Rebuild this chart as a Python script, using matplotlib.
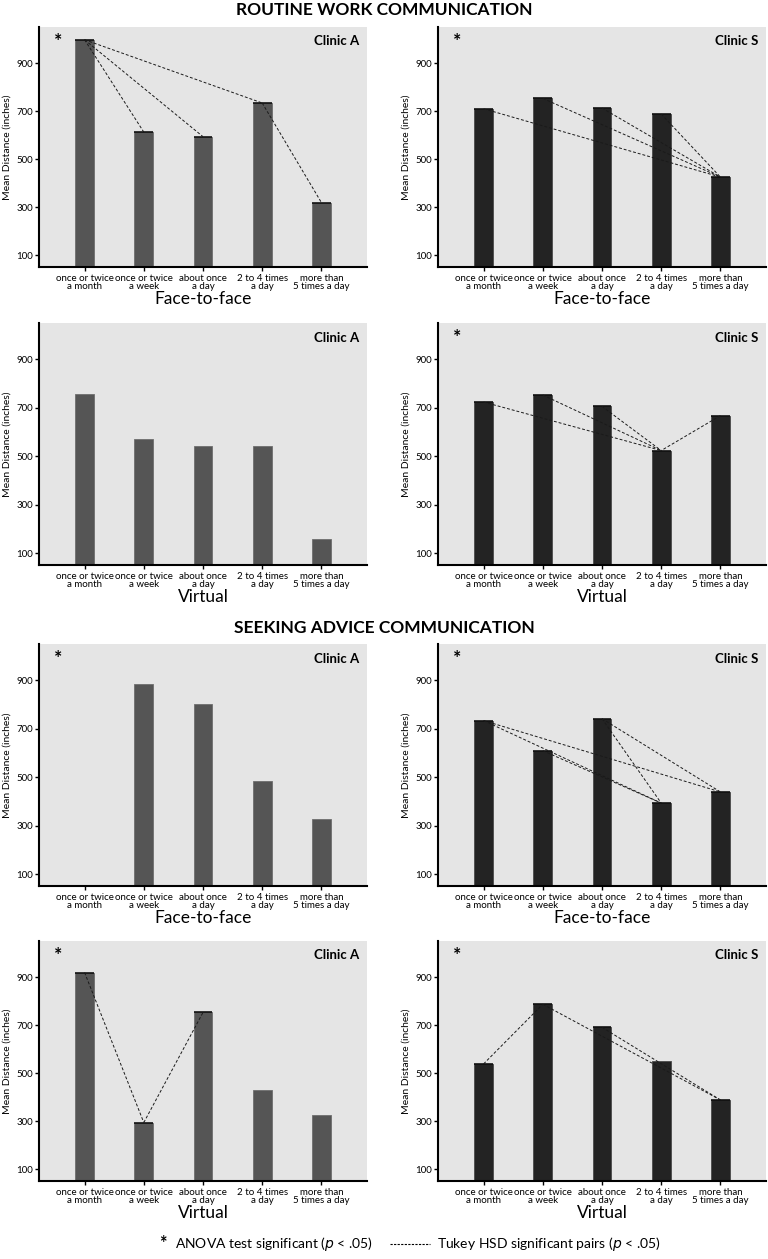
import numpy as np
import matplotlib
matplotlib.use('Agg')
from matplotlib import pyplot as plt

plt.rcParams['font.family'] = ['Lato', 'DejaVu Sans']

# Frequency of communication categories
categories = ["once or twice\na month", "once or twice\na week", "about once\na day",
              "2 to 4 times\na day", "more than\n5 times a day"]

# Mean distance (inches)
rw_f2f_a = [997, 613, 594, 734, 320]
rw_f2f_s = [710, 753, 713, 688, 426]
rw_vir_a = [756, 573, 542, 541, 159]
rw_vir_s = [724, 753, 706, 524, 668]
sa_f2f_a = [np.nan, 886, 802, 483, 329]
sa_f2f_s = [734, 610, 742, 394, 440]
sa_vir_a = [919, 295, 753, 430, 328]
sa_vir_s = [539, 787, 691, 550, 389]

# Tukey HSD significant pairs (category indices)
rw_f2f_a_pairs = [(0, 1), (0, 2), (0, 3), (3, 4)]
rw_f2f_s_pairs = [(0, 4), (1, 4), (2, 4), (3, 4)]
rw_vir_a_pairs = []
rw_vir_s_pairs = [(0, 3), (1, 3), (2, 3), (4, 3)]
sa_f2f_a_pairs = []
sa_f2f_s_pairs = [(0, 3), (0, 4), (1, 3), (2, 3), (2, 4)]
sa_vir_a_pairs = [(0, 1), (1, 2)]
sa_vir_s_pairs = [(0, 1), (1, 4), (2, 4)]

# ANOVA significant flags
rw_anova = [True, True, False, True]
sa_anova = [True, True, True, True]

yticks = [100, 300, 500, 700, 900]

W, H = 768, 1259
fig = plt.figure(figsize=(W/100, H/100), dpi=100)

colors = {'A': '#555555', 'S': '#232323'}
edges = {'A': '#6e6e6e', 'S': '#4a4a4a'}


def add_ax(x0, y0, x1, y1):
    return fig.add_axes([x0/W, 1 - y1/H, (x1 - x0)/W, (y1 - y0)/H])


def panel(ax, vals, pairs, clinic, anova, mode):
    vals = np.array(vals, dtype=float)
    x = np.arange(len(vals))
    ok = np.isfinite(vals)
    bw = 0.32
    ax.set_facecolor('#e5e5e5')
    ax.bar(x[ok], vals[ok], width=bw, color=colors[clinic],
           edgecolor=edges[clinic], linewidth=0.6, zorder=2)

    # black caps on bars joined by a significance line
    used = sorted(set([p for pr in pairs for p in pr]))
    for i in used:
        ax.hlines(vals[i], i - bw/2, i + bw/2, color='black', lw=1.1, zorder=3)
    for i, j in pairs:
        ax.plot([i, j], [vals[i], vals[j]], color='#1a1a1a', lw=0.7,
                ls=(0, (3, 2)), zorder=4)

    ax.set_xlim(-0.77, 4.77)
    ax.set_ylim(52, 1050)
    ax.set_yticks(yticks)
    ax.set_xticks(x)
    ax.set_xticklabels(categories, fontsize=7, linespacing=0.88)
    ax.tick_params(axis='y', labelsize=7, length=3, width=1, pad=1.5)
    ax.tick_params(axis='x', length=3, width=1, pad=2)
    for s in ('top', 'right'):
        ax.spines[s].set_visible(False)
    for s in ('left', 'bottom'):
        ax.spines[s].set_linewidth(1.5)
    ax.set_ylabel('Mean Distance (inches)', fontsize=7.5, labelpad=3)
    ax.set_xlabel(mode, fontsize=12.5, labelpad=0)
    ax.text(0.976, 0.94, 'Clinic ' + clinic, transform=ax.transAxes,
            ha='right', va='center', fontsize=9.5, fontweight='bold')
    if anova:
        ax.text(0.058, 0.94, '*', transform=ax.transAxes, ha='center',
                va='center', fontsize=14, fontweight='bold')


cols = [(39, 367), (438, 766)]
rows = [(27, 267), (323, 565), (644, 886), (941, 1181)]

panels = [
    (rw_f2f_a, rw_f2f_a_pairs, 'A', rw_anova[0], 'Face-to-face'),
    (rw_f2f_s, rw_f2f_s_pairs, 'S', rw_anova[1], 'Face-to-face'),
    (rw_vir_a, rw_vir_a_pairs, 'A', rw_anova[2], 'Virtual'),
    (rw_vir_s, rw_vir_s_pairs, 'S', rw_anova[3], 'Virtual'),
    (sa_f2f_a, sa_f2f_a_pairs, 'A', sa_anova[0], 'Face-to-face'),
    (sa_f2f_s, sa_f2f_s_pairs, 'S', sa_anova[1], 'Face-to-face'),
    (sa_vir_a, sa_vir_a_pairs, 'A', sa_anova[2], 'Virtual'),
    (sa_vir_s, sa_vir_s_pairs, 'S', sa_anova[3], 'Virtual'),
]

for k, (vals, pairs, clinic, anova, mode) in enumerate(panels):
    r, c = divmod(k, 2)
    ax = add_ax(cols[c][0], rows[r][0], cols[c][1], rows[r][1])
    panel(ax, vals, pairs, clinic, anova, mode)

fig.text(384/W, 1 - 10/H, 'ROUTINE WORK COMMUNICATION', ha='center', va='center',
         fontsize=12.5, fontweight='bold')
fig.text(384/W, 1 - 628/H, 'SEEKING ADVICE COMMUNICATION', ha='center', va='center',
         fontsize=12.5, fontweight='bold')

# Legend
ly = 1 - 1244/H
fig.text(163/W, ly, '*', ha='center', va='center', fontsize=13, fontweight='bold')
fig.text(175/W, ly, r'ANOVA test significant ($\it{p}$ < .05)', ha='left', va='center',
         fontsize=10)
fig.add_artist(plt.Line2D([390/W, 430/W], [ly, ly], color='black', lw=0.8,
                          ls=(0, (2, 1.2))))
fig.text(437/W, ly, r'Tukey HSD significant pairs ($\it{p}$ < .05)', ha='left',
         va='center', fontsize=10)

fig.savefig('out.png', dpi=100)
